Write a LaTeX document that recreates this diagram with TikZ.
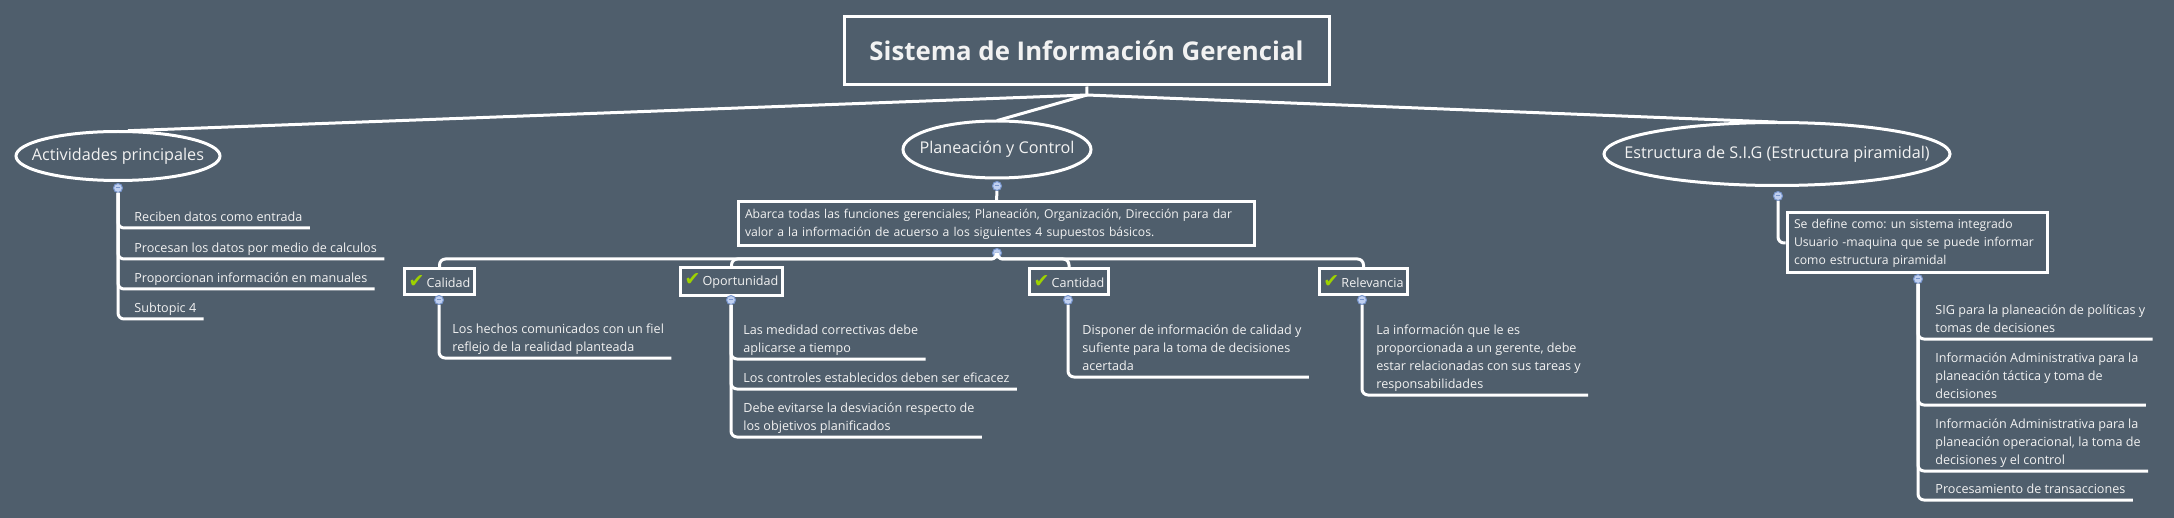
\documentclass[tikz,border=0pt]{standalone}
\usepackage{fontspec}
\setmainfont{Open Sans}
\newfontfamily\symfont{DejaVu Sans}
\definecolor{bg}{RGB}{79,94,108}
\definecolor{ink}{RGB}{242,242,242}
\definecolor{tick}{RGB}{158,210,0}
\definecolor{knobfill}{RGB}{192,208,240}
\definecolor{knobline}{RGB}{120,150,205}
\newcommand{\ok}{{\symfont\fontsize{9.5pt}{9.5pt}\selectfont\color{tick}✔}\,}

\begin{document}
\begin{tikzpicture}[x=0.5pt, y=-0.5pt,
        every node/.style={text=ink},
        headbox/.style={draw=white, line width=1.5pt, minimum width=242.5pt, minimum height=34pt,
          font=\fontsize{12.9pt}{15pt}\selectfont\bfseries},
        mainoval/.style={inner sep=0pt, font=\fontsize{8.1pt}{10pt}\selectfont},
        notebox/.style={draw=white, line width=1.5pt, align=left, inner xsep=3.5pt, inner ysep=2pt,
          font=\fontsize{6.1pt}{9pt}\selectfont\frenchspacing},
        tagbox/.style={draw=white, line width=1.5pt, inner xsep=2pt, minimum height=12pt,
          font=\fontsize{6.3pt}{9pt}\selectfont},
        leaf/.style={anchor=south west, align=left, inner xsep=3.5pt, inner ysep=3pt, text depth=0pt,
          font=\fontsize{6.3pt}{9pt}\selectfont},
        knob/.style={circle, draw=knobline, fill=knobfill, line width=0.5pt, minimum size=4.5pt, inner sep=0pt,
          path picture={\draw[knobline, line width=0.5pt] ([xshift=-1.2pt]path picture bounding box.center)
            -- ([xshift=1.2pt]path picture bounding box.center);}},
        wire/.style={draw=white, line width=1.5pt, rounded corners=3pt}]
        \path[use as bounding box, fill=bg] (0,0) rectangle (2174,518);

        \node[headbox] (root) at (1086.5,51) {Sistema de Información Gerencial};
        \coordinate (hub) at (1087,95);
        \node[mainoval, minimum width=102pt, minimum height=24.5pt] (act) at (118,156) {Actividades principales};
        \node[mainoval, minimum width=94pt, minimum height=28.5pt] (plan) at (997,149.5) {Planeación y Control};
        \node[mainoval, minimum width=173pt, minimum height=31.5pt] (est) at (1777,154) {Estructura de S.I.G (Estructura piramidal)};
        \draw[wire] (act.center) ellipse [x radius=51pt, y radius=12.25pt];
        \draw[wire] (plan.center) ellipse [x radius=47pt, y radius=14.25pt];
        \draw[wire] (est.center) ellipse [x radius=86.5pt, y radius=15.75pt];
        \draw[wire] (root) -- (hub);
        \draw[wire, shorten >=5pt] (hub) -- (act.north);
        \draw[wire] (hub) -- (plan.north);
        \draw[wire] (hub) -- (est.north);

        \node[knob] (ka) at (118,188) {};
        \node[leaf] (r1) at (127,228) {Reciben datos como entrada};
        \node[leaf] (r2) at (127,259) {Procesan los datos por medio de calculos};
        \node[leaf] (r3) at (127,289) {Proporcionan información en manuales};
        \node[leaf] (r4) at (127,319) {Subtopic 4};
        \draw[wire] (ka) |- (r1.south east);
        \draw[wire] (ka) |- (r2.south east);
        \draw[wire] (ka) |- (r3.south east);
        \draw[wire] (ka) |- (r4.south east);

        \node[knob] (kp) at (997,186) {};
        \node[notebox, text width=251pt, minimum height=22pt] (abarca) at (996,224)
          {Abarca todas las funciones gerenciales; Planeación, Organización, Dirección para dar\\
           valor a la información de acuerso a los siguientes 4 supuestos básicos.};
        \node[knob] (kab) at (997,253) {};
        \draw[wire] (kp) -- (abarca);
        \coordinate (bar) at (997,259);

        \node[tagbox] (cal) at (439.5,281.5) {\ok Calidad};
        \node[tagbox] (opo) at (731.5,281.5) {\ok Oportunidad};
        \node[tagbox] (can) at (1069,281.5) {\ok Cantidad};
        \node[tagbox] (rel) at (1363.5,281.5) {\ok Relevancia};
        \draw[wire] (kab) -- (bar) -| (cal);
        \draw[wire] (kab) -- (bar) -| (opo);
        \draw[wire] (kab) -- (bar) -| (can);
        \draw[wire] (kab) -- (bar) -| (rel);

        \node[knob] (kc) at (439,300) {};
        \node[leaf] (c1) at (445,358) {Los hechos comunicados con un fiel\\reflejo de la realidad planteada};
        \draw[wire] (kc) |- (c1.south east);

        \node[knob] (ko) at (731,300) {};
        \node[leaf] (o1) at (736,359) {Las medidad correctivas debe\\aplicarse a tiempo};
        \node[leaf] (o2) at (736,389) {Los controles establecidos deben ser eficacez};
        \node[leaf] (o3) at (736,437) {Debe evitarse la desviación respecto de\\los objetivos planificados};
        \draw[wire] (ko) |- (o1.south east);
        \draw[wire] (ko) |- (o2.south east);
        \draw[wire] (ko) |- (o3.south east);

        \node[knob] (kq) at (1068,300) {};
        \node[leaf] (q1) at (1075,377) {Disponer de información de calidad y\\sufiente para la toma de decisiones\\acertada};
        \draw[wire] (kq) |- (q1.south east);

        \node[knob] (kv) at (1362,300) {};
        \node[leaf] (v1) at (1369,395) {La información que le es\\proporcionada a un gerente, debe\\estar relacionadas con sus tareas y\\responsabilidades};
        \draw[wire] (kv) |- (v1.south east);

        \node[knob] (ke) at (1778,196) {};
        \node[notebox, text width=123pt, minimum height=30pt] (def) at (1917,243)
          {Se define como: un sistema integrado\\Usuario -maquina que se puede informar\\como estructura piramidal};
        \draw[wire] (ke) |- (def.west);

        \node[knob] (kd) at (1918,279) {};
        \node[leaf] (s1) at (1928,339) {SIG para la planeación de políticas y\\tomas de decisiones};
        \node[leaf] (s2) at (1928,405) {Información Administrativa para la\\planeación táctica y toma de\\decisiones};
        \node[leaf] (s3) at (1928,471) {Información Administrativa para la\\planeación operacional, la toma de\\decisiones y el control};
        \node[leaf] (s4) at (1928,500) {Procesamiento de transacciones};
        \draw[wire] (kd) |- (s1.south east);
        \draw[wire] (kd) |- (s2.south east);
        \draw[wire] (kd) |- (s3.south east);
        \draw[wire] (kd) |- (s4.south east);
\end{tikzpicture}
\end{document}
